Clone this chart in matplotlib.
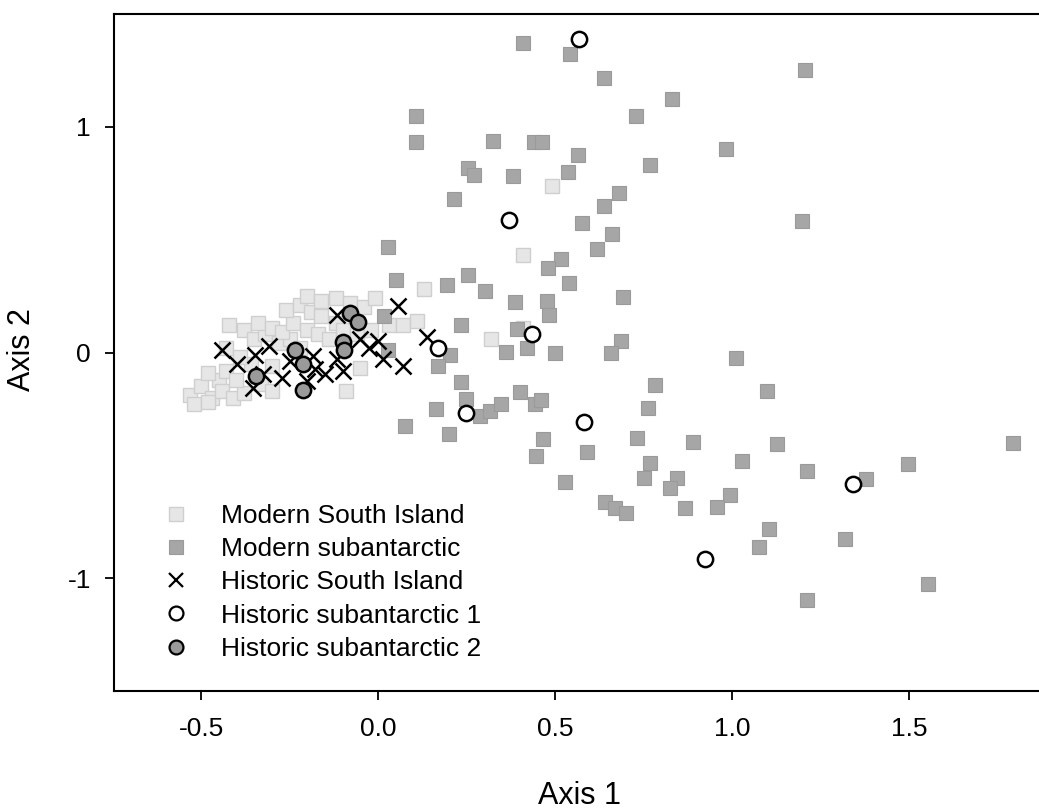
import matplotlib
matplotlib.use("Agg")
import matplotlib.pyplot as plt
from matplotlib.lines import Line2D

plt.rcParams['font.family'] = ['Liberation Sans', 'DejaVu Sans']
plt.rcParams['axes.unicode_minus'] = False

# ---- data ----
modern_si_x = [-0.53, -0.50, -0.47, -0.45, -0.52, -0.48, -0.44, -0.41, -0.38, -0.43, -0.40, -0.36,
               -0.33, -0.30, -0.42, -0.38, -0.35, -0.32, -0.28, -0.25, -0.22, -0.34, -0.30, -0.27,
               -0.24, -0.20, -0.17, -0.14, -0.26, -0.22, -0.19, -0.16, -0.12, -0.20, -0.16, -0.12,
               -0.08, -0.04, -0.01, -0.10, -0.06, -0.02, 0.03, -0.09, 0.07, 0.11, 0.13, 0.32, 0.41,
               0.41, 0.49, -0.43, -0.39, -0.30, -0.48, -0.05]
modern_si_y = [-0.19, -0.15, -0.20, -0.12, -0.23, -0.22, -0.17, -0.20, -0.18, -0.08, -0.12, -0.05,
               -0.14, -0.17, 0.12, 0.10, 0.06, 0.08, 0.04, 0.06, 0.02, 0.13, 0.11, 0.09,
               0.13, 0.10, 0.08, 0.06, 0.19, 0.21, 0.18, 0.16, 0.13, 0.25, 0.23, 0.24,
               0.22, 0.20, 0.24, 0.10, 0.08, 0.10, 0.12, -0.17, 0.12, 0.14, 0.28, 0.06, 0.11,
               0.43, 0.74, 0.02, -0.02, -0.06, -0.09, -0.07]

modern_sub_x = [0.409, 0.543, 0.637, 0.829, 0.729, 0.107, 0.107, 0.326, 0.441, 0.463, 0.565, 0.769,
                0.253, 0.272, 0.380, 0.536, 0.680, 0.639, 0.215, 0.577, 0.662,
                1.206, 0.984, 1.199,
                0.619, 0.029, 0.518, 0.480, 0.051, 0.254, 0.196, 0.301, 0.540, 0.692, 0.387, 0.477,
                0.484, 0.234, 0.204, 0.168, 0.392, 0.362, 0.421, 0.499, 0.685, 0.659, 0.235, 0.782,
                0.249, 0.289, 0.317, 0.347, 0.402, 0.444, 0.460, 0.164, 0.076, 0.199, 0.763, 0.465,
                0.445, 0.590, 0.732, 0.890, 0.769, 0.751, 0.845, 0.826,
                0.017, 0.029,
                1.010, 1.098, 1.793, 1.128, 1.027, 1.496, 1.213,
                1.378, 0.993, 0.958, 1.104, 1.076, 1.319, 1.554, 1.213,
                0.529, 0.642, 0.670, 0.701, 0.866]
modern_sub_y = [1.373, 1.322, 1.215, 1.124, 1.049, 1.049, 0.932, 0.939, 0.932, 0.932, 0.876, 0.833,
                0.817, 0.785, 0.780, 0.798, 0.709, 0.647, 0.680, 0.574, 0.526,
                1.252, 0.903, 0.581,
                0.460, 0.468, 0.415, 0.375, 0.323, 0.345, 0.301, 0.271, 0.308, 0.246, 0.224, 0.227,
                0.164, 0.124, -0.013, -0.061, 0.102, 0.001, 0.021, -0.004, 0.050, -0.004, -0.131, -0.146,
                -0.205, -0.282, -0.260, -0.230, -0.176, -0.230, -0.211, -0.252, -0.326, -0.363, -0.245, -0.385,
                -0.459, -0.441, -0.378, -0.397, -0.488, -0.554, -0.554, -0.599,
                0.161, 0.013,
                -0.024, -0.171, -0.400, -0.407, -0.481, -0.496, -0.525,
                -0.559, -0.631, -0.683, -0.783, -0.860, -0.827, -1.027, -1.097,
                -0.574, -0.662, -0.687, -0.712, -0.690]

hist_si_x = [-0.442, -0.399, -0.347, -0.307, -0.324, -0.354, -0.272, -0.249, -0.183, -0.178,
             -0.150, -0.117, -0.098, -0.201, -0.117, -0.051, -0.027, 0.001, 0.015, 0.057, 0.071, 0.138]
hist_si_y = [0.013, -0.053, -0.009, 0.031, -0.097, -0.156, -0.112, -0.038, -0.016, -0.075,
             -0.097, -0.031, -0.083, -0.127, 0.168, 0.058, 0.021, 0.050, -0.031, 0.205, -0.061, 0.069]

hist_sub1_x = [0.569, 0.371, 0.435, 0.169, 0.249, 0.581, 1.343, 0.925]
hist_sub1_y = [1.389, 0.585, 0.084, 0.021, -0.270, -0.308, -0.584, -0.913]

hist_sub2_x = [-0.079, -0.056, -0.098, -0.096, -0.235, -0.213, -0.213, -0.345]
hist_sub2_y = [0.176, 0.134, 0.046, 0.010, 0.009, -0.053, -0.167, -0.105]

labels = ["Modern South Island", "Modern subantarctic", "Historic South Island",
          "Historic subantarctic 1", "Historic subantarctic 2"]

# ---- figure ----
W, H = 1039, 809
fig = plt.figure(figsize=(W / 100, H / 100), dpi=100)
ax = fig.add_axes([114 / W, (H - 691) / H, 932 / W, 677 / H])

ax.plot(modern_si_x, modern_si_y, 's', ms=10.5, mfc='#e6e6e6', mec='#cfcfcf', mew=1.0, ls='none')
ax.plot(modern_sub_x, modern_sub_y, 's', ms=10.5, mfc='#a6a6a6', mec='#9a9a9a', mew=0.8, ls='none')
ax.plot(hist_si_x, hist_si_y, 'x', ms=11, mec='black', mew=1.8, ls='none')
ax.plot(hist_sub1_x, hist_sub1_y, 'o', ms=11, mfc='white', mec='black', mew=1.8, ls='none')
ax.plot(hist_sub2_x, hist_sub2_y, 'o', ms=11, mfc='#9a9a9a', mec='black', mew=1.8, ls='none')

ax.set_xlim(-0.746, 1.887)
ax.set_ylim(-1.5, 1.5)
ax.set_xticks([-0.5, 0.0, 0.5, 1.0, 1.5])
ax.set_xticklabels(["-0.5", "0.0", "0.5", "1.0", "1.5"])
ax.set_yticks([-1, 0, 1])
ax.set_yticklabels(["-1", "0", "1"])
ax.tick_params(axis='both', direction='out', length=6.5, width=1.3, labelsize=19)
ax.tick_params(axis='x', pad=12)
ax.tick_params(axis='y', pad=10)
for s in ['left', 'bottom', 'top']:
    ax.spines[s].set_linewidth(1.5)
ax.spines['right'].set_visible(False)

fig.text(580 / W, 1 - 796 / H, "Axis 1", ha='center', va='center', fontsize=22)
fig.text(22 / W, 1 - 350 / H, "Axis 2", ha='center', va='center', fontsize=22, rotation=90)

handles = [
    Line2D([], [], marker='s', ls='none', ms=10, mfc='#e6e6e6', mec='#cfcfcf', mew=1.0),
    Line2D([], [], marker='s', ls='none', ms=10, mfc='#a6a6a6', mec='#9a9a9a', mew=0.8),
    Line2D([], [], marker='x', ls='none', ms=10, mec='black', mew=1.6),
    Line2D([], [], marker='o', ls='none', ms=10, mfc='white', mec='black', mew=1.6),
    Line2D([], [], marker='o', ls='none', ms=10, mfc='#9a9a9a', mec='black', mew=1.6),
]
leg = ax.legend(handles, labels, loc='upper left', bbox_to_anchor=(160 / W, 1 - 504 / H),
                bbox_transform=fig.transFigure, frameon=False, fontsize=19,
                handlelength=1.2, handletextpad=1.1, labelspacing=0.35, borderpad=0, borderaxespad=0)

fig.savefig("out.png", dpi=100)
